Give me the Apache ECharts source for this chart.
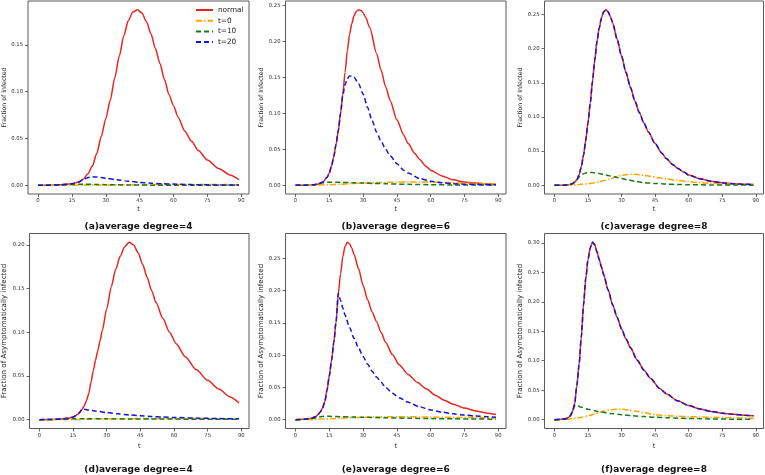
<!DOCTYPE html>
<html>
<head>
<meta charset="utf-8">
<script src="https://cdn.jsdelivr.net/npm/echarts@6/dist/echarts.min.js"></script>
<style>html,body{margin:0;padding:0;background:#fff}#c{width:765px;height:475px}</style>
</head>
<body>
<div id="c"></div>
<script>
// ---------------- data ----------------
const seriesNames = ['normal', 't=0', 't=10', 't=20'];
const xTicks = [0, 15, 30, 45, 60, 75, 90];
const titles = ['(a)average degree=4', '(b)average degree=6', '(c)average degree=8',
                '(d)average degree=4', '(e)average degree=6', '(f)average degree=8'];
const yNames = ['Fraction of Infected', 'Fraction of Infected', 'Fraction of Infected',
                'Fraction of Asymptomatically infected', 'Fraction of Asymptomatically infected', 'Fraction of Asymptomatically infected'];
const yTicksA = [0, 0.05, 0.10, 0.15];
const yTicksB = [0, 0.05, 0.10, 0.15, 0.20, 0.25];
const yTicksC = [0, 0.05, 0.10, 0.15, 0.20, 0.25];
const yTicksD = [0, 0.05, 0.10, 0.15, 0.20];
const yTicksE = [0, 0.05, 0.10, 0.15, 0.20, 0.25];
const yTicksF = [0, 0.05, 0.10, 0.15, 0.20, 0.25, 0.30];

// (a) infected, degree 4
const a_normal = [[0,0],[5,0],[10,0.0005],[15,0.0015],[18,0.0035],[20,0.0065],[22,0.012],[24,0.02],[26,0.034],[28,0.052],[30,0.071],[32,0.091],[34,0.115],[36,0.138],[38,0.16],[40,0.176],[42,0.185],[44,0.1875],[46,0.184],[48,0.175],[50,0.162],[52,0.146],[54,0.13],[56,0.113],[58,0.097],[60,0.085],[62,0.073],[65,0.058],[68,0.047],[71,0.037],[75,0.027],[80,0.018],[85,0.011],[89,0.006]];
const a_t0 = [[0,0],[20,0.0001],[30,0.0003],[40,0.0005],[50,0.0007],[60,0.0008],[70,0.0008],[80,0.0007],[89,0.0006]];
const a_t10 = [[0,0],[10,0.0003],[15,0.0008],[20,0.001],[25,0.0009],[30,0.0006],[40,0.0003],[50,0.0001],[60,0],[89,0]];
const a_t20 = [[0,0],[5,0],[10,0.0005],[15,0.0015],[18,0.0035],[20,0.006],[22,0.008],[24,0.009],[26,0.0088],[30,0.0075],[35,0.0058],[40,0.0042],[45,0.003],[50,0.0022],[55,0.0016],[60,0.0012],[70,0.0006],[80,0.0003],[89,0.0002]];

// (b) infected, degree 6
const b_normal = [[0,0],[5,0],[8,0.0005],[10,0.0015],[12,0.004],[14,0.011],[15,0.017],[16,0.027],[17,0.04],[18,0.057],[19,0.076],[20,0.1],[21,0.127],[22,0.157],[23,0.187],[24,0.21],[25,0.225],[26,0.236],[27,0.242],[28,0.244],[29,0.243],[30,0.24],[31,0.234],[33,0.219],[36,0.183],[38,0.16],[40,0.137],[42,0.118],[45,0.091],[48,0.07],[50,0.058],[53,0.044],[55,0.036],[58,0.026],[60,0.021],[65,0.013],[70,0.0075],[75,0.0045],[80,0.003],[85,0.002],[89,0.0012]];
const b_t0 = [[0,0],[10,0.0003],[15,0.0008],[20,0.0015],[25,0.0022],[30,0.003],[35,0.0036],[40,0.004],[45,0.0043],[50,0.0045],[55,0.0045],[60,0.0043],[65,0.004],[70,0.0035],[75,0.003],[80,0.0025],[85,0.002],[89,0.0017]];
const b_t10 = [[0,0],[8,0.0005],[10,0.002],[12,0.0035],[14,0.0042],[16,0.0043],[20,0.004],[25,0.0035],[30,0.003],[35,0.0025],[40,0.002],[50,0.0012],[60,0.0007],[70,0.0004],[80,0.0002],[89,0.0001]];
const b_t20 = [[0,0],[5,0],[8,0.0005],[10,0.0015],[12,0.004],[14,0.011],[15,0.017],[16,0.027],[17,0.04],[18,0.057],[19,0.076],[20,0.1],[21,0.125],[22,0.14],[23,0.148],[24,0.152],[25,0.152],[26,0.15],[28,0.141],[30,0.127],[32,0.108],[34,0.09],[36,0.074],[38,0.061],[40,0.05],[42,0.041],[45,0.03],[48,0.021],[50,0.017],[55,0.0095],[60,0.0055],[65,0.0035],[70,0.002],[80,0.001],[89,0.0005]];

// (c) infected, degree 8
const c_normal = [[0,0],[4,0],[6,0.0005],[8,0.002],[9,0.0045],[10,0.008],[11,0.015],[12,0.027],[13,0.044],[14,0.066],[15,0.092],[16,0.12],[17,0.152],[18,0.183],[19,0.21],[20,0.23],[21,0.245],[22,0.254],[23,0.257],[24,0.254],[25,0.247],[26,0.238],[28,0.214],[30,0.189],[32,0.165],[34,0.143],[36,0.123],[38,0.106],[40,0.091],[42,0.078],[45,0.061],[48,0.047],[50,0.039],[53,0.03],[55,0.025],[58,0.019],[60,0.015],[65,0.0095],[70,0.0058],[75,0.0035],[80,0.0022],[85,0.0014],[89,0.001]];
const c_t0 = [[0,0],[5,0],[8,0.0003],[10,0.0008],[12,0.0013],[15,0.002],[18,0.0035],[20,0.005],[22,0.0068],[25,0.0095],[28,0.0128],[30,0.0145],[32,0.0155],[34,0.016],[36,0.0159],[38,0.0153],[40,0.0145],[43,0.013],[46,0.0113],[50,0.0092],[55,0.007],[60,0.0052],[65,0.0038],[70,0.0028],[75,0.002],[80,0.0015],[85,0.0011],[89,0.0009]];
const c_t10 = [[0,0],[4,0],[6,0.0005],[8,0.002],[9,0.0045],[10,0.008],[11,0.012],[12,0.015],[13,0.0168],[14,0.018],[15,0.0185],[16,0.0187],[17,0.0186],[18,0.0183],[20,0.0172],[22,0.0158],[25,0.0135],[28,0.0113],[30,0.0099],[33,0.0078],[36,0.0058],[40,0.0038],[45,0.0025],[50,0.0017],[55,0.0011],[60,0.0008],[70,0.0004],[80,0.0002],[89,0.0001]];
const c_t20 = [[0,0],[4,0],[6,0.0005],[8,0.002],[9,0.0045],[10,0.008],[11,0.015],[12,0.027],[13,0.044],[14,0.066],[15,0.092],[16,0.12],[17,0.152],[18,0.183],[19,0.21],[20,0.23],[21,0.245],[22,0.254],[23,0.257],[24,0.254],[25,0.247],[26,0.238],[28,0.214],[30,0.189],[32,0.165],[34,0.143],[36,0.123],[38,0.106],[40,0.091],[42,0.078],[45,0.061],[48,0.047],[50,0.039],[53,0.03],[55,0.025],[58,0.019],[60,0.015],[65,0.0095],[70,0.0058],[75,0.0035],[80,0.0022],[85,0.0014],[89,0.001]];

// (d) asymptomatic, degree 4
const d_normal = [[0,0],[5,0.0002],[10,0.0008],[13,0.0017],[15,0.003],[17,0.0058],[18,0.0085],[19,0.012],[20,0.016],[21,0.022],[22,0.03],[23,0.043],[24,0.056],[25,0.068],[26,0.079],[27,0.09],[28,0.102],[30,0.127],[32,0.152],[34,0.172],[36,0.187],[38,0.198],[40,0.203],[42,0.2],[44,0.191],[46,0.178],[48,0.163],[50,0.148],[52,0.134],[55,0.116],[58,0.1],[61,0.087],[65,0.072],[70,0.057],[75,0.045],[80,0.035],[85,0.026],[89,0.019]];
const d_t0 = [[0,0],[15,0.0002],[25,0.0006],[35,0.001],[45,0.0012],[55,0.0013],[65,0.0013],[75,0.0012],[85,0.0011],[89,0.001]];
const d_t10 = [[0,0],[8,0.0003],[10,0.0006],[15,0.0009],[20,0.001],[30,0.0009],[40,0.0008],[50,0.0007],[60,0.0006],[70,0.0005],[80,0.0004],[89,0.0004]];
const d_t20 = [[0,0],[5,0.0002],[10,0.0008],[13,0.0017],[15,0.003],[17,0.0058],[18,0.0085],[19,0.012],[20,0.0118],[22,0.011],[25,0.0098],[30,0.0081],[35,0.0066],[40,0.0054],[45,0.0044],[50,0.0036],[55,0.003],[60,0.0025],[70,0.0017],[80,0.0012],[89,0.0009]];

// (e) asymptomatic, degree 6
const e_normal = [[0,0],[4,0.0005],[7,0.002],[9,0.005],[10,0.008],[11,0.012],[12,0.018],[13,0.028],[14,0.046],[15,0.068],[16,0.092],[17,0.12],[18,0.152],[19,0.196],[20,0.226],[21,0.253],[22,0.269],[23,0.275],[24,0.273],[25,0.266],[26,0.256],[28,0.234],[30,0.208],[32,0.186],[34,0.167],[36,0.152],[38,0.135],[40,0.12],[43,0.101],[46,0.085],[50,0.07],[54,0.058],[58,0.048],[62,0.038],[66,0.03],[70,0.024],[75,0.018],[80,0.0135],[85,0.01],[89,0.008]];
const e_t0 = [[0,0],[8,0.0003],[12,0.0008],[16,0.0015],[20,0.0022],[25,0.003],[30,0.0036],[35,0.004],[40,0.0043],[45,0.0044],[50,0.0044],[55,0.0042],[60,0.004],[70,0.0035],[80,0.003],[89,0.0026]];
const e_t10 = [[0,0],[5,0.0005],[8,0.002],[10,0.004],[12,0.005],[14,0.0052],[16,0.005],[20,0.0046],[25,0.0041],[30,0.0036],[40,0.0028],[50,0.0021],[60,0.0016],[70,0.0012],[80,0.0009],[89,0.0007]];
const e_t20 = [[0,0],[4,0.0005],[7,0.002],[9,0.005],[10,0.008],[11,0.012],[12,0.018],[13,0.028],[14,0.046],[15,0.068],[16,0.092],[17,0.12],[18,0.152],[19,0.196],[20,0.185],[21,0.173],[22,0.162],[24,0.143],[26,0.126],[28,0.111],[30,0.098],[32,0.086],[34,0.075],[36,0.066],[38,0.058],[40,0.05],[43,0.041],[46,0.034],[50,0.027],[55,0.02],[60,0.015],[65,0.0115],[70,0.009],[75,0.007],[80,0.0055],[85,0.0045],[89,0.0038]];

// (f) asymptomatic, degree 8
const f_normal = [[0,0],[3,0.0005],[5,0.0015],[6,0.003],[7,0.006],[8,0.013],[9,0.026],[10,0.058],[11,0.093],[12,0.14],[13,0.195],[14,0.24],[15,0.272],[16,0.292],[17,0.301],[18,0.297],[19,0.285],[20,0.272],[21,0.259],[22,0.246],[24,0.22],[26,0.195],[28,0.174],[30,0.154],[32,0.137],[34,0.122],[37,0.101],[40,0.084],[43,0.07],[47,0.053],[50,0.044],[55,0.032],[60,0.024],[65,0.018],[70,0.014],[75,0.011],[80,0.009],[85,0.0075],[89,0.0065]];
const f_t0 = [[0,0],[4,0.0003],[6,0.0008],[8,0.0015],[10,0.0025],[12,0.004],[15,0.0065],[18,0.0095],[20,0.012],[22,0.0145],[25,0.0168],[28,0.018],[30,0.0178],[33,0.0165],[36,0.0145],[40,0.0118],[45,0.0085],[50,0.0068],[55,0.0058],[60,0.005],[65,0.0045],[70,0.004],[80,0.003],[89,0.0022]];
const f_t10 = [[0,0],[3,0.0005],[5,0.0015],[6,0.003],[7,0.006],[8,0.013],[9,0.024],[10,0.0245],[12,0.021],[15,0.0175],[18,0.015],[20,0.0135],[25,0.0105],[30,0.0083],[35,0.0066],[40,0.0052],[45,0.0041],[50,0.0032],[55,0.0025],[60,0.002],[70,0.0012],[80,0.0008],[89,0.0005]];
const f_t20 = [[0,0],[3,0.0005],[5,0.0015],[6,0.003],[7,0.006],[8,0.013],[9,0.026],[10,0.058],[11,0.093],[12,0.14],[13,0.195],[14,0.24],[15,0.272],[16,0.292],[17,0.301],[18,0.297],[19,0.285],[20,0.272],[21,0.259],[22,0.246],[24,0.22],[26,0.195],[28,0.174],[30,0.154],[32,0.137],[34,0.122],[37,0.101],[40,0.084],[43,0.07],[47,0.053],[50,0.044],[55,0.032],[60,0.024],[65,0.018],[70,0.014],[75,0.011],[80,0.009],[85,0.0075],[89,0.0065]];

const panelSeries = [
  [a_normal, a_t0, a_t10, a_t20],
  [b_normal, b_t0, b_t10, b_t20],
  [c_normal, c_t0, c_t10, c_t20],
  [d_normal, d_t0, d_t10, d_t20],
  [e_normal, e_t0, e_t10, e_t20],
  [f_normal, f_t0, f_t10, f_t20]
];
const panelYTicks = [yTicksA, yTicksB, yTicksC, yTicksD, yTicksE, yTicksF];

// ---------------- layout / style ----------------
const FONT = 'DejaVu Sans';
const colLeft = [28, 285.5, 544.5];
const colWidth = [221, 220.5, 219];
const rowTop = [1, 233.5];
const rowHeight = [193, 195];
const yNameGap = [19.5, 18.5, 20.5, 21.5, 19, 20];
const yNameSize = [6.2, 6.2, 6.2, 7.1, 7.1, 7.1];
const xNameGap = [12, 14];
const titleTop = [222.5, 465.5];
const colors = ['#e8251f', '#ffa500', '#1a7a1a', '#1414d2'];
const lineTypes = ['solid', [6, 2, 1.5, 2], [5, 3], [5, 3]];

const grids = [], xAxes = [], yAxes = [], series = [], titleArr = [];
for (let p = 0; p < 6; p++) {
  const r = Math.floor(p / 3), c = p % 3;
  grids.push({left: colLeft[c], top: rowTop[r], width: colWidth[c], height: rowHeight[r],
    show: true, borderColor: '#5a5a5a', borderWidth: 1, backgroundColor: 'transparent', containLabel: false});
  let tmin = Infinity, tmax = -Infinity, vmin = Infinity, vmax = -Infinity;
  panelSeries[p].forEach(s => s.forEach(([t, v]) => {
    tmin = Math.min(tmin, t); tmax = Math.max(tmax, t);
    vmin = Math.min(vmin, v); vmax = Math.max(vmax, v);
  }));
  const tm = (tmax - tmin) * 0.05, vm = (vmax - vmin) * 0.05;
  xAxes.push({
    type: 'value', gridIndex: p, min: tmin - tm, max: tmax + tm,
    name: 't', nameLocation: 'middle', nameGap: xNameGap[r],
    nameTextStyle: {fontFamily: FONT, fontSize: 6.5, color: '#222'},
    axisLine: {show: false, onZero: false},
    axisTick: {show: true, length: 3, inside: false, customValues: xTicks, lineStyle: {color: '#444', width: 0.8}},
    axisLabel: {customValues: xTicks, fontFamily: FONT, fontSize: 5.3, color: '#333', margin: 4.5},
    splitLine: {show: false}
  });
  const yt = panelYTicks[p];
  yAxes.push({
    type: 'value', gridIndex: p, min: vmin - vm, max: vmax + vm,
    name: yNames[p], nameLocation: 'middle', nameGap: yNameGap[p],
    nameTextStyle: {fontFamily: FONT, fontSize: yNameSize[p], color: '#222'},
    axisLine: {show: false, onZero: false},
    axisTick: {show: true, length: 3, inside: false, customValues: yt, lineStyle: {color: '#444', width: 0.8}},
    axisLabel: {customValues: yt, fontFamily: FONT, fontSize: 5.3, color: '#333', margin: 5,
      formatter: v => Number(v).toFixed(2)},
    splitLine: {show: false}
  });
  panelSeries[p].forEach((d, i) => {
    series.push({
      type: 'line', name: seriesNames[i], xAxisIndex: p, yAxisIndex: p, data: d,
      showSymbol: false, symbol: 'none', smooth: 0.25, smoothMonotone: 'x',
      lineStyle: {color: colors[i], width: 1.5, type: lineTypes[i]},
      itemStyle: {color: colors[i]},
      z: 2 + i, animation: false, silent: true
    });
  });
  titleArr.push({
    text: titles[p], left: colLeft[c] + colWidth[c] / 2, top: titleTop[r], textAlign: 'center', padding: 0,
    textStyle: {fontFamily: FONT, fontSize: 9, fontWeight: 'bold', color: '#111'}
  });
}

const chart = echarts.init(document.getElementById('c'), null, {renderer: 'canvas'});
chart.setOption({
  animation: false,
  backgroundColor: '#fff',
  title: titleArr,
  grid: grids,
  xAxis: xAxes,
  yAxis: yAxes,
  legend: {
    show: true,
    data: seriesNames, orient: 'vertical', left: 195, top: 6.5, padding: 0,
    itemWidth: 17, itemHeight: 7, itemGap: 3.7,
    itemStyle: {opacity: 0, borderWidth: 0},
    textStyle: {fontFamily: FONT, fontSize: 7.3, color: '#222'},
    selectedMode: false
  },
  series: series
});
</script>
</body>
</html>
